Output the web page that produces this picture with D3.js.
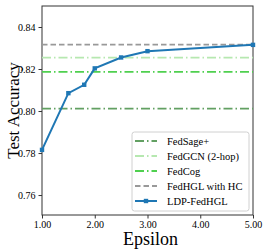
<!DOCTYPE html>
<html>
<head>
<meta charset="utf-8">
<script src="https://cdn.jsdelivr.net/npm/d3@7"></script>
<style>
  body { margin: 0; background: #fff; }
  svg { display: block; font-family: "Liberation Serif", "Times New Roman", serif; }
  .axis text { font-size: 10px; fill: #000; font-family: "Liberation Serif", serif; }
  .axis path, .axis line { stroke: #333; }
</style>
</head>
<body>
<div id="chart"></div>
<script>
// data
var epsilons = [1.0, 1.5, 1.8, 2.0, 2.5, 3.0, 5.0];
var ldpAcc = [0.7815, 0.8085, 0.8125, 0.8203, 0.8255, 0.8285, 0.8315];
var baselineNames = ['FedSage+', 'FedGCN (2-hop)', 'FedCog', 'FedHGL with HC'];
var baselineAcc = [0.8011, 0.8254, 0.8186, 0.8316];
var baselineColors = ['#62a062', '#b6e8b0', '#4fd04f', '#999999'];
var xTicks = [1, 2, 3, 4, 5];
var yTicks = [0.76, 0.78, 0.80, 0.82, 0.84];

var W = 266, H = 249;
var margin = {top: 6, right: 13, bottom: 34, left: 42};
var width = W - margin.left - margin.right,
    height = H - margin.top - margin.bottom;

var svg = d3.select('#chart').append('svg')
            .attr('width', W)
            .attr('height', H);
var chart = svg.append('g')
            .attr('transform', 'translate(' + margin.left + ',' + margin.top + ')');

// scales
var xScale = d3.scaleLinear().domain([1, 5]).range([0, width]);
var yScale = d3.scaleLinear().domain([0.7505, 0.85]).range([height, 0]);

// axes
var xAxis = d3.axisBottom(xScale).tickValues(xTicks).tickSize(3.5).tickPadding(2.5)
              .tickFormat(d3.format('.2f'));
var yAxis = d3.axisLeft(yScale).tickValues(yTicks).tickSize(3.5).tickPadding(3)
              .tickFormat(d3.format('.2f'));
chart.append('g').attr('class', 'axis')
     .attr('transform', 'translate(0,' + height + ')').call(xAxis)
     .select('.domain').remove();
chart.append('g').attr('class', 'axis').call(yAxis)
     .select('.domain').remove();

// frame
chart.append('rect')
     .attr('width', width).attr('height', height)
     .attr('fill', 'none').attr('stroke', '#333').attr('stroke-width', 1);

// baseline lines
var dashes = ['9,3,1.5,3', '9,3,1.5,3', '9,3,1.5,3', '5.5,3'];
baselineAcc.forEach(function(v, i) {
    chart.append('line')
         .attr('x1', 0).attr('x2', width)
         .attr('y1', yScale(v)).attr('y2', yScale(v))
         .attr('stroke', baselineColors[i])
         .attr('stroke-width', 1.8)
         .attr('stroke-dasharray', dashes[i]);
});

// LDP-FedHGL line
var ldpData = epsilons.map(function(e, i) { return {x: e, y: ldpAcc[i]}; });
var line = d3.line()
             .x(function(d) { return xScale(d.x); })
             .y(function(d) { return yScale(d.y); });
chart.append('path')
     .attr('d', line(ldpData))
     .attr('fill', 'none')
     .attr('stroke', '#1f77b4')
     .attr('stroke-width', 2);
chart.selectAll('rect.pt')
     .data(ldpData)
     .enter().append('rect').attr('class', 'pt')
     .attr('x', function(d) { return xScale(d.x) - 2.2; })
     .attr('y', function(d) { return yScale(d.y) - 2.2; })
     .attr('width', 4.4).attr('height', 4.4)
     .attr('fill', '#1f77b4');

// legend
var legend = chart.append('g').attr('transform', 'translate(90,126)');
legend.append('rect')
      .attr('width', 117).attr('height', 79)
      .attr('rx', 2.5)
      .attr('fill', 'white').attr('fill-opacity', 0.85)
      .attr('stroke', '#d0d0d0').attr('stroke-width', 1);
var legendNames = baselineNames.concat(['LDP-FedHGL']);
legendNames.forEach(function(name, i) {
    var g = legend.append('g').attr('transform', 'translate(0,' + (9 + i * 15) + ')');
    if (i < 4) {
        g.append('line').attr('x1', 3).attr('x2', 25).attr('y1', 0).attr('y2', 0)
         .attr('stroke', baselineColors[i]).attr('stroke-width', 1.8)
         .attr('stroke-dasharray', dashes[i]);
    } else {
        g.append('line').attr('x1', 3).attr('x2', 25).attr('y1', 0).attr('y2', 0)
         .attr('stroke', '#1f77b4').attr('stroke-width', 2);
        g.append('rect').attr('x', 11.8).attr('y', -2.2).attr('width', 4.4).attr('height', 4.4)
         .attr('fill', '#1f77b4');
    }
    g.append('text').attr('x', 35).attr('y', 3.5)
     .style('font-size', '10.5px').text(name);
});

// axis titles
svg.append('text')
   .attr('x', margin.left + width / 2 + 3).attr('y', 245)
   .attr('text-anchor', 'middle')
   .style('font-size', '18px')
   .text('Epsilon');
svg.append('text')
   .attr('transform', 'translate(19,' + (margin.top + height / 2) + ') rotate(-90)')
   .attr('text-anchor', 'middle')
   .style('font-size', '17px')
   .text('Test Accuracy');
</script>
</body>
</html>
